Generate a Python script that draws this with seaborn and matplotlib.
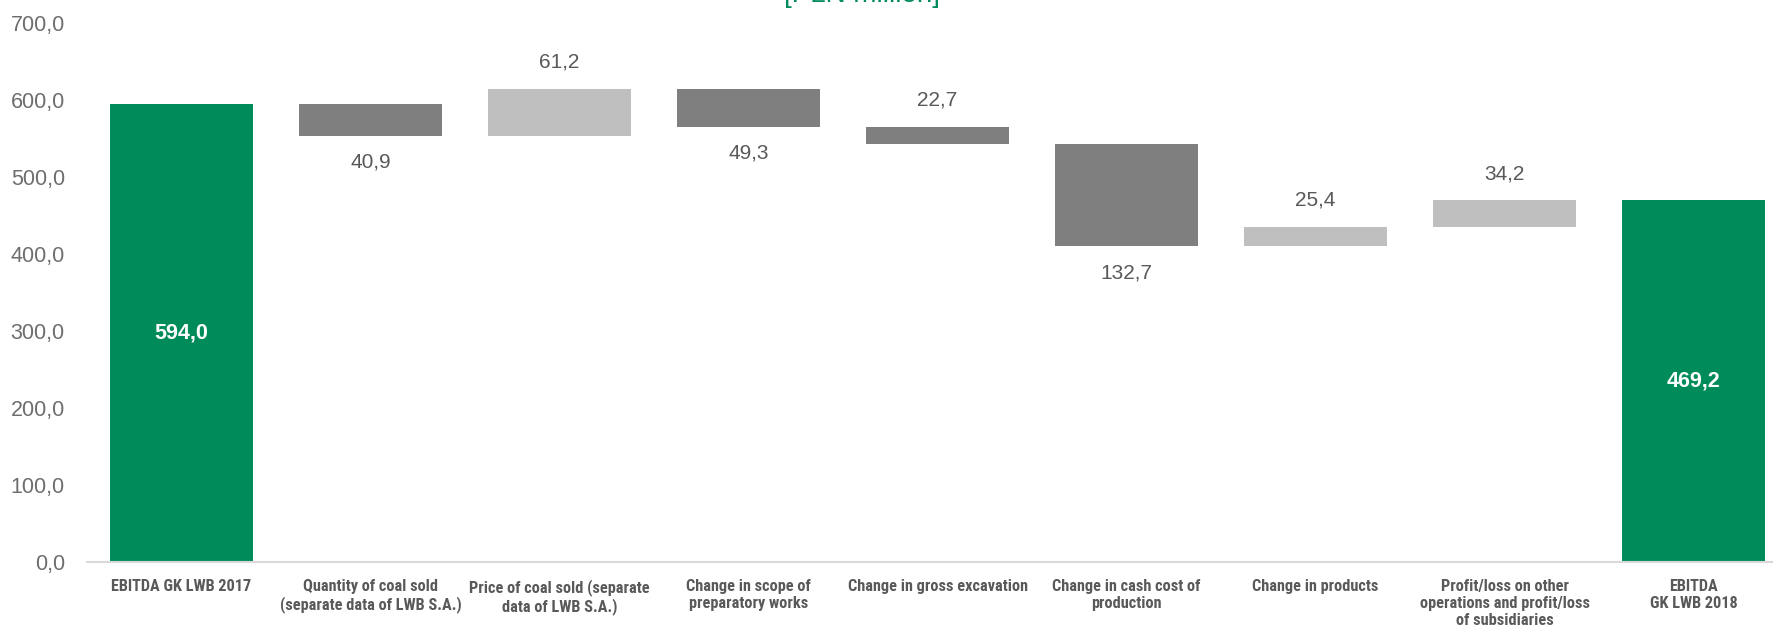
import numpy as np
import pandas as pd
import seaborn as sns
import matplotlib.pyplot as plt
from matplotlib import font_manager

# EBITDA bridge 2017 -> 2018 [PLN million]
categories = [
    'EBITDA GK LWB 2017',
    'Quantity of coal sold\n(separate data of LWB S.A.)',
    'Price of coal sold (separate\ndata of LWB S.A.)',
    'Change in scope of\npreparatory works',
    'Change in gross excavation',
    'Change in cash cost of\nproduction',
    'Change in products',
    'Profit/loss on other\noperations and profit/loss\nof subsidiaries',
    'EBITDA\nGK LWB 2018',
]
start_value = 594.0
changes = [-40.9, 61.2, -49.3, -22.7, -132.7, 25.4, 34.2]
end_value = 469.2
yticks = [0, 100, 200, 300, 400, 500, 600, 700]

# where each change label sits in the original (above / below its bar)
label_above = [False, True, False, True, False, True, True]

GREEN = '#008C5A'
DARK = '#7F7F7F'
LIGHT = '#BFBFBF'
TEXT = '#595959'

# waterfall geometry from the values
levels = np.cumsum([start_value] + changes)
bottoms = [0.0]
heights = [start_value]
colors = [GREEN]
for prev, d in zip(levels[:-1], changes):
    bottoms.append(min(prev, prev + d))
    heights.append(abs(d))
    colors.append(LIGHT if d > 0 else DARK)
bottoms.append(0.0)
heights.append(end_value)
colors.append(GREEN)

df = pd.DataFrame({'Category': categories, 'Height': heights})

sns.set_theme(style="white")
names = {f.name for f in font_manager.fontManager.ttflist}
narrow = None
for cand in ['Liberation Sans Narrow', 'Roboto Condensed', 'Open Sans Condensed']:
    if cand in names:
        narrow = cand
        break
plt.rcParams['font.family'] = ['Liberation Sans', 'DejaVu Sans']

fig = plt.figure(figsize=(17.73, 6.3), dpi=100)
ax = fig.add_axes([0.0491, 0.1079, 0.9594, 0.8562])

sns.barplot(data=df, x='Category', y='Height', bottom=bottoms, width=0.76,
            color=GREEN, saturation=1, ax=ax)
for patch, c in zip(ax.patches, colors):
    patch.set_facecolor(c)
    patch.set_edgecolor('none')

fmt = lambda v: f"{v:.1f}".replace('.', ',')

# value labels
ax.text(0, start_value / 2, fmt(start_value), ha='center', va='center',
        color='white', fontsize=15.5, fontweight='bold')
ax.text(len(categories) - 1, end_value / 2, fmt(end_value), ha='center', va='center',
        color='white', fontsize=15.5, fontweight='bold')
for i, (d, above) in enumerate(zip(changes, label_above), start=1):
    if above:
        y, off = bottoms[i] + heights[i], 19
    else:
        y, off = bottoms[i], -19
    ax.annotate(fmt(abs(d)), (i, y), xytext=(0, off), textcoords='offset points',
                ha='center', va='center', color=TEXT, fontsize=15)

ax.set_ylim(0, 700)
ax.set_yticks(yticks)
ax.set_yticklabels([fmt(v) for v in yticks], color='#6E6E6E', fontsize=15.5)
ax.set_xticks(range(len(categories)))
if narrow:
    ax.set_xticklabels(categories, fontsize=11.7, fontweight='bold', color=TEXT,
                       family=narrow, linespacing=1.2, va='top')
else:
    ax.set_xticklabels(categories, fontsize=10.2, fontweight='bold', color=TEXT,
                       linespacing=1.35, va='top')
ax.tick_params(axis='y', length=0, pad=16)
ax.tick_params(axis='x', length=0, pad=12)
ax.set_xlabel('')
ax.set_ylabel('')
for s in ['top', 'right', 'left']:
    ax.spines[s].set_visible(False)
ax.spines['bottom'].set_color('#D9D9D9')
ax.spines['bottom'].set_linewidth(1.5)
ax.grid(False)

fig.text(862 / 1773, 1 - 2 / 630, '[PLN million]', ha='center', va='baseline',
         color=GREEN, fontsize=20)

fig.savefig('out.png', dpi=100)
